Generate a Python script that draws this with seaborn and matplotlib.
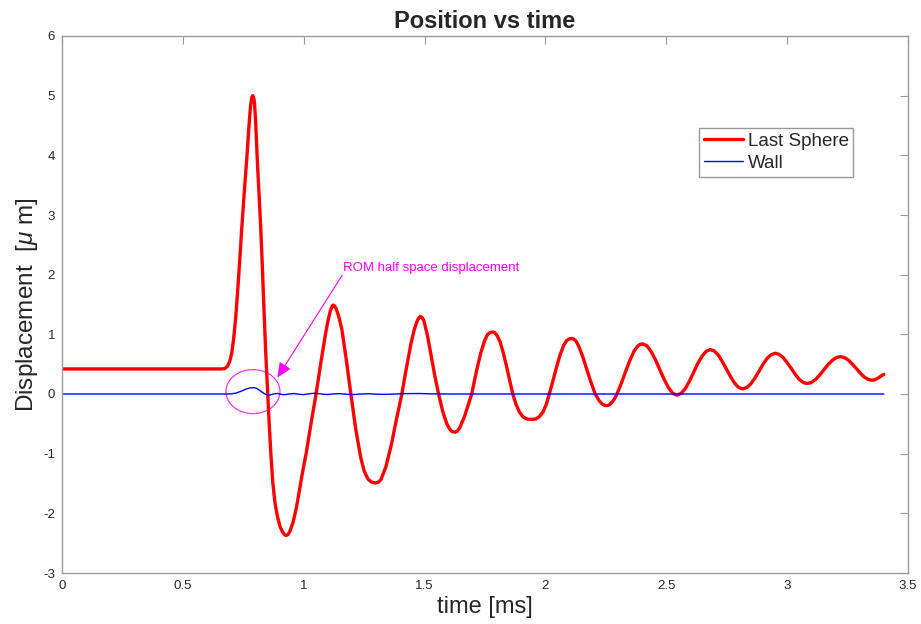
import matplotlib
matplotlib.use("Agg")
import matplotlib.pyplot as plt
from matplotlib.patches import Ellipse
import pandas as pd
import seaborn as sns

# ---- data: last sphere displacement (time in ms, displacement in um) ----
t_sphere = [
    0.000, 0.660, 0.672, 0.684, 0.694, 0.702, 0.710, 0.718, 0.726, 0.735,
    0.744, 0.754, 0.764, 0.772, 0.779, 0.783, 0.786, 0.789, 0.792, 0.795,
    0.797, 0.801, 0.808, 0.815, 0.822, 0.828, 0.833, 0.838, 0.843, 0.851,
    0.857, 0.864, 0.872, 0.881, 0.891, 0.902, 0.912, 0.920, 0.927, 0.935,
    0.943, 0.956, 0.970, 0.985, 0.997, 1.010, 1.030, 1.051, 1.070, 1.089,
    1.100, 1.110, 1.116, 1.121, 1.127, 1.134, 1.145, 1.158, 1.177, 1.195,
    1.215, 1.235, 1.250, 1.265, 1.280, 1.290, 1.300, 1.310, 1.320, 1.340,
    1.362, 1.384, 1.406, 1.425, 1.444, 1.458, 1.468, 1.476, 1.482, 1.489,
    1.497, 1.512, 1.527, 1.543, 1.558, 1.575, 1.592, 1.604, 1.614, 1.625,
    1.635, 1.645, 1.665, 1.680, 1.695, 1.714, 1.732, 1.748, 1.760, 1.771,
    1.781, 1.790, 1.800, 1.812, 1.825, 1.840, 1.853, 1.865, 1.878, 1.892,
    1.907, 1.920, 1.930, 1.941, 1.952, 1.962, 1.975, 1.990, 2.004, 2.016,
    2.031, 2.046, 2.061, 2.076, 2.088, 2.098, 2.107, 2.116, 2.126, 2.138,
    2.155, 2.172, 2.189, 2.206, 2.222, 2.234, 2.245, 2.254, 2.263, 2.273,
    2.284, 2.296, 2.314, 2.332, 2.350, 2.367, 2.380, 2.391, 2.402, 2.420,
    2.437, 2.455, 2.473, 2.491, 2.509, 2.526, 2.544, 2.561, 2.579, 2.596,
    2.613, 2.630, 2.648, 2.665, 2.682, 2.699, 2.716, 2.732, 2.749, 2.766,
    2.783, 2.799, 2.816, 2.833, 2.850, 2.867, 2.884, 2.900, 2.917, 2.934,
    2.951, 2.967, 2.984, 3.000, 3.017, 3.033, 3.049, 3.066, 3.082, 3.099,
    3.117, 3.134, 3.151, 3.168, 3.186, 3.203, 3.220, 3.236, 3.253, 3.269,
    3.286, 3.302, 3.318, 3.335, 3.351, 3.362, 3.374, 3.387, 3.400,
]
y_sphere = [
    0.42, 0.42, 0.425, 0.46, 0.55, 0.68, 0.92, 1.25, 1.68, 2.22,
    2.80, 3.38, 3.92, 4.40, 4.78, 4.92, 4.98, 5.00, 4.98, 4.92,
    4.84, 4.58, 3.92, 3.35, 2.80, 2.22, 1.68, 1.17, 0.68, 0.00,
    -0.48, -1.00, -1.48, -1.82, -2.05, -2.22, -2.31, -2.355, -2.37, -2.355,
    -2.30, -2.15, -1.90, -1.55, -1.27, -1.00, -0.50, 0.00, 0.50, 0.98,
    1.22, 1.39, 1.46, 1.49, 1.48, 1.43, 1.30, 1.08, 0.55, 0.00,
    -0.58, -1.05, -1.29, -1.42, -1.475, -1.488, -1.49, -1.475, -1.43, -1.22,
    -0.86, -0.42, 0.00, 0.44, 0.85, 1.09, 1.21, 1.275, 1.30, 1.285,
    1.23, 0.98, 0.65, 0.29, 0.00, -0.29, -0.50, -0.59, -0.63, -0.64,
    -0.625, -0.57, -0.38, -0.19, 0.00, 0.37, 0.68, 0.89, 0.995, 1.03,
    1.04, 1.03, 0.98, 0.88, 0.70, 0.45, 0.21, 0.00, -0.17, -0.30,
    -0.38, -0.415, -0.423, -0.425, -0.423, -0.415, -0.38, -0.30, -0.17, 0.00,
    0.22, 0.45, 0.66, 0.82, 0.895, 0.922, 0.93, 0.922, 0.89, 0.80,
    0.62, 0.40, 0.19, 0.00, -0.11, -0.165, -0.19, -0.195, -0.185, -0.15,
    -0.09, 0.00, 0.18, 0.38, 0.57, 0.72, 0.795, 0.83, 0.84, 0.807,
    0.714, 0.574, 0.41, 0.246, 0.106, 0.013, -0.02, 0.009, 0.092, 0.216,
    0.3625, 0.509, 0.633, 0.716, 0.745, 0.720, 0.649, 0.541, 0.415, 0.289,
    0.181, 0.110, 0.085, 0.108, 0.172, 0.270, 0.384, 0.498, 0.596, 0.660,
    0.683, 0.664, 0.609, 0.526, 0.429, 0.332, 0.249, 0.194, 0.175, 0.192,
    0.241, 0.315, 0.401, 0.487, 0.561, 0.610, 0.627, 0.612, 0.569, 0.504,
    0.4285, 0.353, 0.288, 0.245, 0.23, 0.238, 0.262, 0.295, 0.33,
]

# ---- data: wall displacement ----
t_wall = [
    0.00, 0.68, 0.70, 0.72, 0.74, 0.76, 0.775, 0.792, 0.805, 0.818,
    0.830, 0.840, 0.850, 0.862, 0.875, 0.890, 0.905, 0.920, 0.940, 0.960,
    0.980, 1.000, 1.020, 1.040, 1.060, 1.080, 1.100, 1.120, 1.150, 1.180,
    1.210, 1.240, 1.270, 1.300, 1.340, 1.380, 1.420, 1.480, 1.530, 1.600,
    3.400,
]
y_wall = [
    0.0, 0.0, 0.003, 0.015, 0.045, 0.08, 0.10, 0.107, 0.095, 0.06,
    0.025, 0.0, -0.02, -0.015, 0.0, 0.01, -0.005, -0.012, 0.0, 0.008,
    -0.005, -0.01, 0.002, 0.012, 0.008, -0.004, -0.008, 0.0, 0.006, -0.006,
    -0.008, 0.0, 0.005, -0.003, -0.006, 0.0, 0.006, 0.008, 0.002, 0.0,
    0.0,
]

x_ticks = [0, 0.5, 1, 1.5, 2, 2.5, 3, 3.5]
x_tick_labels = ["0", "0.5", "1", "1.5", "2", "2.5", "3", "3.5"]
y_ticks = [-3, -2, -1, 0, 1, 2, 3, 4, 5, 6]
y_tick_labels = ["-3", "-2", "-1", "0", "1", "2", "3", "4", "5", "6"]

assert len(t_sphere) == len(y_sphere) and len(t_wall) == len(y_wall)

sns.set_style("white")
plt.rcParams["font.family"] = ["Liberation Sans", "DejaVu Sans"]
plt.rcParams["mathtext.fontset"] = "custom"
plt.rcParams["mathtext.rm"] = "Liberation Sans"
plt.rcParams["mathtext.it"] = "Liberation Sans:italic"

txt_col = "#262626"
ax_col = "#9a9a9a"

fig, ax = plt.subplots(figsize=(9.21, 6.24), dpi=100)
fig.subplots_adjust(left=62 / 921, right=908 / 921, bottom=1 - 573 / 624, top=1 - 36 / 624)

sphere = pd.DataFrame({"t": t_sphere, "y": y_sphere})
wall = pd.DataFrame({"t": t_wall, "y": y_wall})

sns.lineplot(data=sphere, x="t", y="y", ax=ax, color="#ff0000", lw=2.4,
             sort=False, estimator=None, label="Last Sphere")
sns.lineplot(data=wall, x="t", y="y", ax=ax, color="#0000ff", lw=1.0,
             sort=False, estimator=None, label="Wall")
for ln in ax.get_lines():
    ln.set_solid_joinstyle("round")

ax.set_xlim(0, 3.5)
ax.set_ylim(-3, 6)
ax.set_xticks(x_ticks)
ax.set_xticklabels(x_tick_labels)
ax.set_yticks(y_ticks)
ax.set_yticklabels(y_tick_labels)

for s in ax.spines.values():
    s.set_visible(True)
    s.set_color(ax_col)
    s.set_linewidth(1.0)
ax.tick_params(direction="in", length=6, width=0.8, color=ax_col,
               top=True, right=True, labelsize=9.5, labelcolor=txt_col, pad=5)

ax.set_title("Position vs time", fontsize=17, fontweight="bold", color=txt_col, pad=6)
ax.set_xlabel("time [ms]", fontsize=17, color=txt_col)
ax.set_ylabel(r"Displacement  [$\mu$ m]", fontsize=17.5, color=txt_col)
ax.xaxis.set_label_coords(0.5, -0.043)
ax.yaxis.set_label_coords(-0.026, 0.5)

# highlight of the half-space response
ax.add_patch(Ellipse((0.790, 0.04), width=0.2235, height=0.738, fill=False,
                     edgecolor="#ff33ff", lw=0.9))
ax.annotate("", xy=(0.891, 0.275), xytext=(1.159, 1.99),
            arrowprops=dict(arrowstyle="-|>,head_length=0.9,head_width=0.4",
                            color="#ff00ff", lw=0.8, shrinkA=0, shrinkB=0))
ax.text(1.162, 2.06, "ROM half space displacement", color="#ff00ff",
        fontsize=9.5, ha="left", va="baseline")

leg = ax.legend(loc="upper left", bbox_to_anchor=(0.753, 0.829), borderaxespad=0,
                fontsize=13.5, frameon=True, fancybox=False, framealpha=1,
                edgecolor=ax_col, handlelength=2.1, handletextpad=0.25,
                labelspacing=0.28, borderpad=0.25)
leg.get_frame().set_linewidth(1.0)
for t in leg.get_texts():
    t.set_color(txt_col)

fig.savefig("out.png", dpi=100, facecolor="white")
